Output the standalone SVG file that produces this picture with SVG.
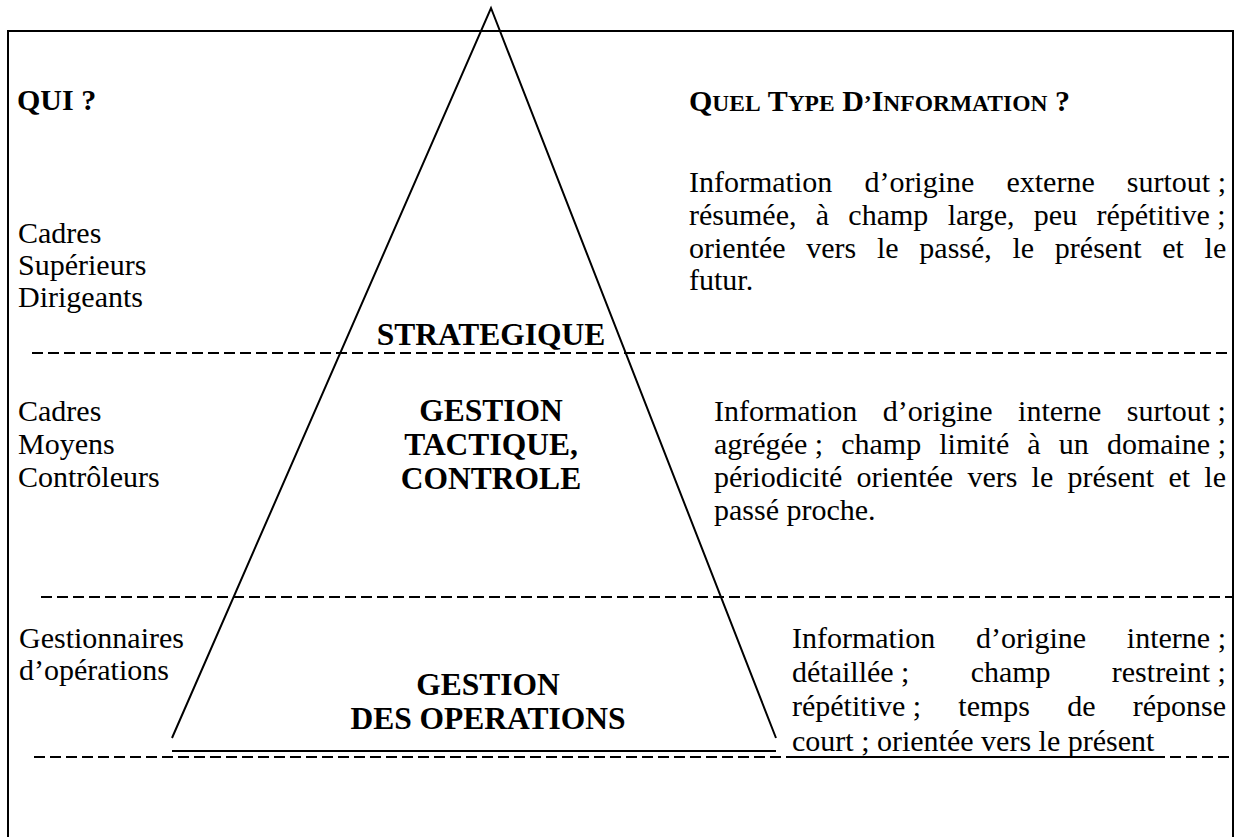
<svg xmlns="http://www.w3.org/2000/svg" width="1236" height="837" viewBox="0 0 1236 837">
<style>
  .t { font-family: "Liberation Serif", "Times New Roman", serif; font-size: 30px; fill: #000; }
  .b { font-family: "Liberation Serif", "Times New Roman", serif; font-size: 30px; font-weight: bold; fill: #000; }
  .lbl { font-size: 31.5px; }
  .sc { font-size: 23.5px; }
  .line { stroke: #000; stroke-width: 2; fill: none; }
  .dash { stroke: #000; stroke-width: 2; fill: none; stroke-dasharray: 11 5; }
</style>
<rect x="0" y="0" width="1236" height="837" fill="#fff"/>

<g id="frame">
  <polyline class="line" points="8,837 8,31 1233,31 1233,837"/>
</g>

<g id="dividers">
  <line class="dash" x1="32" y1="353" x2="1232" y2="353"/>
  <line class="dash" x1="41" y1="597" x2="1232" y2="597"/>
  <line class="dash" x1="34" y1="757" x2="1232" y2="757"/>
  <line class="line" x1="792" y1="757" x2="1165" y2="757"/>
</g>

<g id="pyramid">
  <polyline class="line" points="172,738 491,8 776,738"/>
  <line class="line" x1="172" y1="751" x2="776" y2="751"/>
</g>

<g id="headers">
  <text class="b" x="17" y="110">QUI ?</text>
  <text class="b" x="689" y="111">Q<tspan class="sc">UEL</tspan> T<tspan class="sc">YPE</tspan> D<tspan class="sc">’</tspan>I<tspan class="sc">NFORMATION</tspan> ?</text>
</g>

<g id="level-strategique">
  <text class="t" x="18" y="243">Cadres</text>
  <text class="t" x="18" y="275">Supérieurs</text>
  <text class="t" x="18" y="307">Dirigeants</text>
  <text class="b lbl" x="491" y="345" text-anchor="middle">STRATEGIQUE</text>
  <text class="t" x="689" y="192" word-spacing="24.6">Information d’origine externe <tspan word-spacing="0">surtout ;</tspan></text>
  <text class="t" x="689" y="225" word-spacing="11.8">résumée, à champ large, peu <tspan word-spacing="0">répétitive ;</tspan></text>
  <text class="t" x="689" y="258" word-spacing="13.2">orientée vers le passé, le présent et le</text>
  <text class="t" x="689" y="290">futur.</text>
</g>

<g id="level-tactique">
  <text class="t" x="18" y="421">Cadres</text>
  <text class="t" x="18" y="454">Moyens</text>
  <text class="t" x="18" y="487">Contrôleurs</text>
  <text class="b lbl" x="491" y="421" text-anchor="middle">GESTION</text>
  <text class="b lbl" x="491" y="455" text-anchor="middle">TACTIQUE,</text>
  <text class="b lbl" x="491" y="489" text-anchor="middle">CONTROLE</text>
  <text class="t" x="714" y="421" word-spacing="17.9">Information d’origine interne <tspan word-spacing="0">surtout ;</tspan></text>
  <text class="t" x="714" y="454"><tspan>agrégée ;</tspan><tspan word-spacing="10.6"> champ limité à un </tspan><tspan>domaine ;</tspan></text>
  <text class="t" x="714" y="487" word-spacing="6.75">périodicité orientée vers le présent et le</text>
  <text class="t" x="714" y="520">passé proche.</text>
</g>

<g id="level-operations">
  <text class="t" x="19" y="648">Gestionnaires</text>
  <text class="t" x="19" y="680">d’opérations</text>
  <text class="b lbl" x="488" y="695" text-anchor="middle">GESTION</text>
  <text class="b lbl" x="488" y="729" text-anchor="middle">DES OPERATIONS</text>
  <text class="t" x="792" y="648" word-spacing="33.3">Information d’origine <tspan word-spacing="0">interne ;</tspan></text>
  <text class="t" x="792" y="682"><tspan>détaillée ;</tspan><tspan word-spacing="53.7"> champ </tspan><tspan>restreint ;</tspan></text>
  <text class="t" x="792" y="716"><tspan>répétitive ;</tspan><tspan word-spacing="29.7"> temps de réponse</tspan></text>
  <text class="t" x="792" y="751">court ; orientée vers le présent</text>
</g>
</svg>
